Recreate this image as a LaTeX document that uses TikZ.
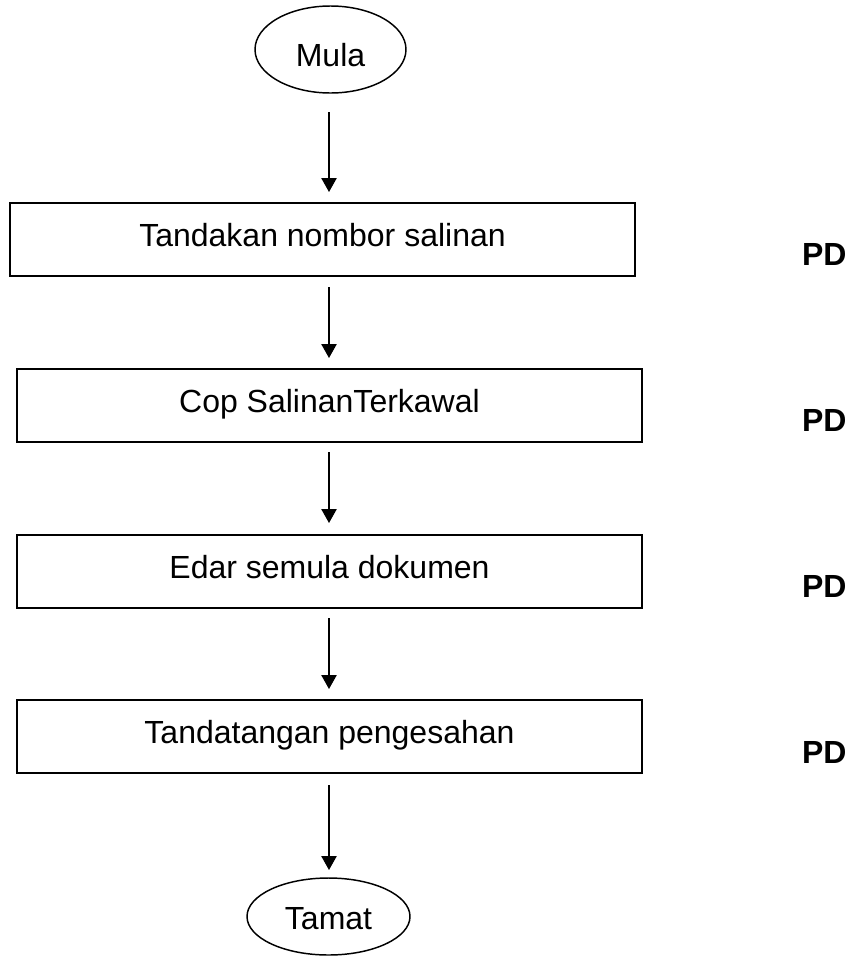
\documentclass[tikz,border=0pt]{standalone}
\usepackage{fontspec}
\setmainfont{Liberation Sans}
\usetikzlibrary{shapes.geometric,arrows.meta}
\begin{document}
\begin{tikzpicture}[x=0.75pt,y=-0.75pt,
  every node/.style={font=\fontsize{24}{28}\selectfont, inner sep=0pt, outer sep=0pt},
  stepbox/.style={draw, line width=1.5pt, minimum width=468.75pt, minimum height=54.75pt, text height=17.25pt, text depth=7pt},
  term/.style={draw, ellipse, line width=1.1pt, text depth=0pt},
  arr/.style={line width=1.1pt, -{Triangle[length=10.5pt,width=11.5pt]}},
  who/.style={anchor=west, font=\fontsize{24}{28}\selectfont\bfseries}]
\useasboundingbox (0,0) rectangle (849,957);
\coordinate (ax) at (329,0);
\node[term, minimum width=113.25pt, minimum height=65.25pt, text height=24.75pt] (mula) at (330.5,49.5) {Mula};
\node[stepbox] (b1) at (322.5,239.5) {Tandakan nombor salinan};
\node[stepbox] (b2) at (329.5,405.5) {Cop SalinanTerkawal};
\node[stepbox] (b3) at (329.5,571.5) {Edar semula dokumen};
\node[stepbox] (b4) at (329.5,736.5) {Tandatangan pengesahan};
\node[term, minimum width=122.25pt, minimum height=57.75pt, text height=18.75pt] (tamat) at (328.5,916.5) {Tamat};
\node[who] (p1) at (802,254) {PD};
\node[who] (p2) at (802,420) {PD};
\node[who] (p3) at (802,586) {PD};
\node[who] (p4) at (802,752) {PD};
\draw[arr, shorten <=14.25pt, shorten >=8.25pt] (mula.south -| ax) -- (b1.north -| ax);
\draw[arr, shorten <=8.25pt, shorten >=8.25pt] (b1.south -| ax) -- (b2.north -| ax);
\draw[arr, shorten <=7.5pt, shorten >=9pt] (b2.south -| ax) -- (b3.north -| ax);
\draw[arr, shorten <=7.5pt, shorten >=8.25pt] (b3.south -| ax) -- (b4.north -| ax);
\draw[arr, shorten <=9pt, shorten >=6pt] (b4.south -| ax) -- (tamat.north -| ax);
\end{tikzpicture}
\end{document}
